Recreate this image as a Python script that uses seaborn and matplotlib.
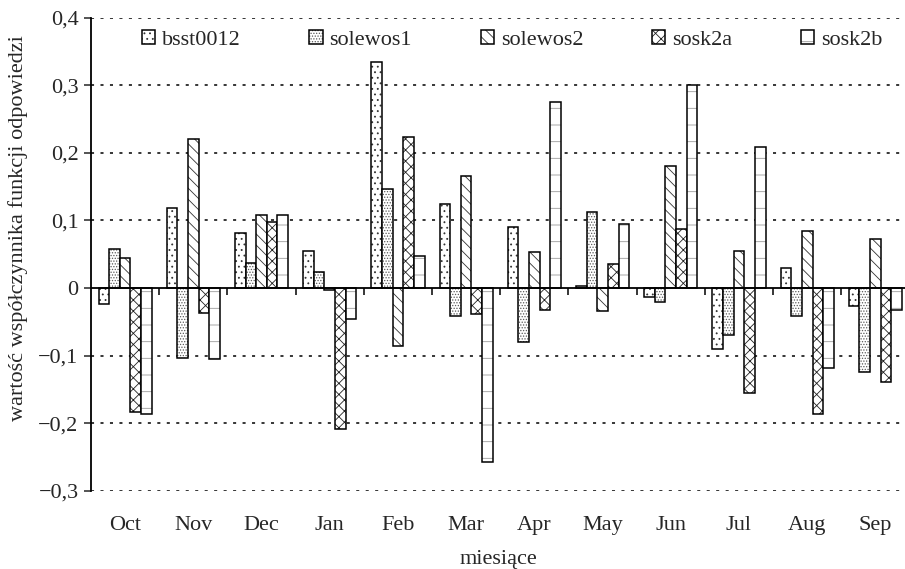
import matplotlib

matplotlib.use("Agg")
import matplotlib.pyplot as plt
import numpy as np
import pandas as pd
import seaborn as sns
from matplotlib.ticker import FuncFormatter, MultipleLocator

sns.set_style("white")
plt.rcParams["font.family"] = ["Liberation Serif", "DejaVu Serif"]
plt.rcParams["hatch.linewidth"] = 0.6

months = ["Oct", "Nov", "Dec", "Jan", "Feb", "Mar",
          "Apr", "May", "Jun", "Jul", "Aug", "Sep"]
series = ["bsst0012", "solewos1", "solewos2", "sosk2a", "sosk2b"]

bsst0012 = [-0.023, 0.118, 0.081, 0.054, 0.335, 0.124,
            0.090, 0.003, -0.013, -0.090, 0.029, -0.027]
solewos1 = [0.058, -0.104, 0.037, 0.023, 0.146, -0.041,
            -0.080, 0.113, -0.021, -0.070, -0.042, -0.125]
solewos2 = [0.044, 0.221, 0.108, -0.003, -0.086, 0.165,
            0.053, -0.034, 0.180, 0.054, 0.084, 0.072]
sosk2a = [-0.183, -0.037, 0.097, -0.208, 0.224, -0.038,
          -0.032, 0.035, 0.087, -0.155, -0.187, -0.139]
sosk2b = [-0.186, -0.105, 0.108, -0.046, 0.048, -0.258,
          0.275, 0.095, 0.300, 0.208, -0.118, -0.032]

hatches = {"bsst0012": "...", "solewos1": "......", "solewos2": "\\\\\\",
           "sosk2a": "xxx", "sosk2b": "-"}
hatch_colors = {"bsst0012": "#333333", "solewos1": "#5a5a5a", "solewos2": "#333333",
                "sosk2a": "#222222", "sosk2b": "#9a9a9a"}

values = [bsst0012, solewos1, solewos2, sosk2a, sosk2b]
df = pd.DataFrame(
    [(m, s, v) for s, vals in zip(series, values) for m, v in zip(months, vals)],
    columns=["miesiac", "seria", "wartosc"],
)

fig = plt.figure(figsize=(9.05, 5.69), dpi=100)
ax = fig.add_axes([91 / 905, 1 - 490.7 / 569, 1 - 91 / 905, (490.7 - 17.7) / 569])

sns.barplot(
    data=df, x="miesiac", y="wartosc", hue="seria",
    order=months, hue_order=series,
    palette={s: "white" for s in series},
    width=0.78, gap=0, edgecolor="black", linewidth=1.1,
    errorbar=None, legend=False, ax=ax, zorder=2,
)

for cont, s in zip(ax.containers, series):
    for p in cont.patches:
        p.set_hatch(hatches[s])
        # matplotlib 3.10 has no public hatch colour separate from the edge
        p._hatch_color = matplotlib.colors.to_rgba(hatch_colors[s])

ax.set_ylim(-0.3, 0.4)
ax.set_xlim(-0.5, 11.434)
ax.yaxis.set_major_locator(MultipleLocator(0.1))
ax.yaxis.set_major_formatter(
    FuncFormatter(lambda v, _: "0" if abs(v) < 1e-9 else f"{v:.1f}".replace(".", ",").replace("-", "\u2212"))
)
for y in np.arange(-0.3, 0.41, 0.1):
    if abs(y) > 1e-9:
        ax.axhline(y, color="black", lw=1.1, ls=(0, (2.0, 4.2)), zorder=1)
ax.axhline(0, color="black", lw=1.3, zorder=4)
ax.vlines(np.arange(0.5, 11.5, 1.0), -0.0105, 0, color="black", lw=1.1, zorder=4)

for side in ["top", "right", "bottom"]:
    ax.spines[side].set_visible(False)
ax.spines["left"].set_linewidth(1.3)
ax.spines["left"].set_color("black")

ax.tick_params(axis="y", direction="out", length=5, width=1.1, labelsize=16, left=True, pad=4)
ax.tick_params(axis="x", length=0, labelsize=16, pad=18)

ax.set_xlabel("miesiące", fontsize=16, labelpad=11)
ax.set_ylabel("wartość współczynnika funkcji odpowiedzi", fontsize=16)
ax.yaxis.set_label_coords(-0.077, 0.556)

handles = [c.patches[0] for c in ax.containers]
leg = fig.legend(
    handles, series, loc="center", bbox_to_anchor=(512 / 905, 1 - 40 / 569),
    ncol=5, frameon=False, fontsize=16, handlelength=0.6, handleheight=0.6,
    handletextpad=0.3, columnspacing=3.1,
)
for h, s in zip(leg.legend_handles, series):
    h._hatch_color = matplotlib.colors.to_rgba(hatch_colors[s])

fig.savefig("out.png", dpi=100)
